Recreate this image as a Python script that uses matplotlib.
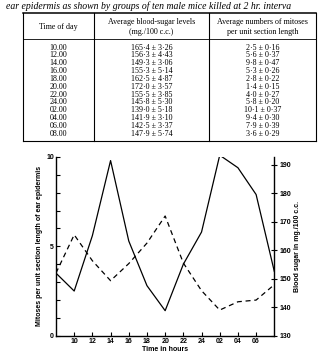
import matplotlib
matplotlib.use('Agg')
import matplotlib.pyplot as plt

# Tableau : glycémie et mitoses toutes les 2 h
heures = ['10.00', '12.00', '14.00', '16.00', '18.00', '20.00',
          '22.00', '24.00', '02.00', '04.00', '06.00', '08.00']
sucre = [165.4, 156.3, 149.3, 155.3, 162.5, 172.0, 155.5, 145.8, 139.0, 141.9, 142.5, 147.9]
sucre_err = [3.26, 4.43, 3.06, 5.14, 4.87, 3.57, 3.85, 5.30, 5.18, 3.10, 3.37, 5.74]
mitoses = [2.5, 5.6, 9.8, 5.3, 2.8, 1.4, 4.0, 5.8, 10.1, 9.4, 7.9, 3.6]
mitoses_err = [0.16, 0.37, 0.47, 0.26, 0.22, 0.15, 0.27, 0.20, 0.37, 0.30, 0.39, 0.29]

# Courbe : heures en continu (08 h du début, puis 10 ... 08 le lendemain)
t_courbe = [8, 10, 12, 14, 16, 18, 20, 22, 24, 26, 28, 30, 32]
mitoses_courbe = [3.5] + mitoses
sucre_courbe = [152.0] + sucre
xticks = [10, 12, 14, 16, 18, 20, 22, 24, 26, 28, 30]
xlabels = ['10', '12', '14', '16', '18', '20', '22', '24', '02', '04', '06']

W, H = 321, 353
fig = plt.figure(figsize=(W / 100, H / 100), dpi=100)

# Zone du tableau, coordonnées en pixels
tab = fig.add_axes([0, 0, 1, 1])
tab.set_xlim(0, W)
tab.set_ylim(H, 0)
tab.axis('off')

serif = 'Liberation Serif'
tab.text(6, 6, 'ear epidermis as shown by groups of ten male mice killed at 2 hr. interva',
         fontsize=7.0, style='italic', family=serif, va='center', ha='left')

x0, x1, x2, x3 = 22.5, 94, 209, 316
y_haut, y_sep, y_bas = 13.3, 39, 141
tab.plot([x0, x3], [y_haut, y_haut], color='black', lw=1.1)
tab.plot([x0, x3], [y_sep, y_sep], color='black', lw=0.6)
tab.plot([x0, x3], [y_bas, y_bas], color='black', lw=0.8)
for x in [x0, x1, x2, x3]:
    tab.plot([x, x], [y_haut, y_bas], color='black', lw=0.8)

fs = 5.8
tab.text((x0 + x1) / 2, 27, 'Time of day', fontsize=fs, family=serif, ha='center', va='center')
tab.text((x1 + x2) / 2, 22.5, 'Average blood-sugar levels', fontsize=fs, family=serif, ha='center', va='center')
tab.text((x1 + x2) / 2, 31.5, '(mg./100 c.c.)', fontsize=fs, family=serif, ha='center', va='center')
tab.text((x2 + x3) / 2, 22.5, 'Average numbers of mitoses', fontsize=fs, family=serif, ha='center', va='center')
tab.text((x2 + x3) / 2, 31.5, 'per unit section length', fontsize=fs, family=serif, ha='center', va='center')

for i in range(len(heures)):
    y = 47.5 + i * 7.85
    tab.text((x0 + x1) / 2, y, heures[i], fontsize=fs, family=serif, ha='center', va='center')
    s = f'{sucre[i]:.1f} ± {sucre_err[i]:.2f}'.replace('.', '·')
    tab.text((x1 + x2) / 2, y, s, fontsize=fs, family=serif, ha='center', va='center')
    m = f'{mitoses[i]:.1f} ± {mitoses_err[i]:.2f}'.replace('.', '·')
    tab.text((x2 + x3) / 2, y, m, fontsize=fs, family=serif, ha='center', va='center')

# Graphique
sans = 'Liberation Sans'
ax = fig.add_axes([56 / W, 1 - 335.7 / H, (274.3 - 56) / W, (335.7 - 157) / H])
ax.plot(t_courbe, mitoses_courbe, color='black', lw=0.9)
ax.set_xlim(8, 32)
ax.set_ylim(0, 10)
ax.set_yticks(range(0, 11))
ax.set_yticklabels(['0', '', '', '', '', '5', '', '', '', '', '10'])
ax.set_xticks(xticks)
ax.set_xticklabels(xlabels)
ax.tick_params(direction='in', length=3, width=0.8, labelsize=5, pad=2)
ax.tick_params(axis='y', pad=1.5)
for lab in ax.get_xticklabels() + ax.get_yticklabels():
    lab.set_family(sans)
    lab.set_fontweight('bold')
ax.spines['top'].set_visible(False)
ax.spines['right'].set_visible(False)
ax.spines['left'].set_linewidth(1.0)
ax.spines['bottom'].set_linewidth(1.0)
ax.set_ylabel('Mitoses per unit section length of ear epidermis', fontsize=5,
              family=sans, fontweight='bold', labelpad=2.5)
ax.set_xlabel('Time in hours', fontsize=5, family=sans, fontweight='bold', labelpad=0.5)
ax.patch.set_alpha(0)

ax2 = ax.twinx()
ax2.plot(t_courbe, sucre_courbe, color='black', lw=0.9, linestyle=(0, (4, 3)))
ax2.set_ylim(130, 192.7)
ax2.set_yticks([130, 140, 150, 160, 170, 180, 190])
ax2.tick_params(direction='inout', length=4, width=0.8, labelsize=5, pad=1.5)
for lab in ax2.get_yticklabels():
    lab.set_family(sans)
    lab.set_fontweight('bold')
for side in ['top', 'left', 'bottom']:
    ax2.spines[side].set_visible(False)
ax2.spines['right'].set_linewidth(1.0)
ax2.set_ylabel('Blood sugar in mg./100 c.c.', fontsize=5, family=sans,
               fontweight='bold', labelpad=2.5)

fig.savefig('out.png', dpi=100)
